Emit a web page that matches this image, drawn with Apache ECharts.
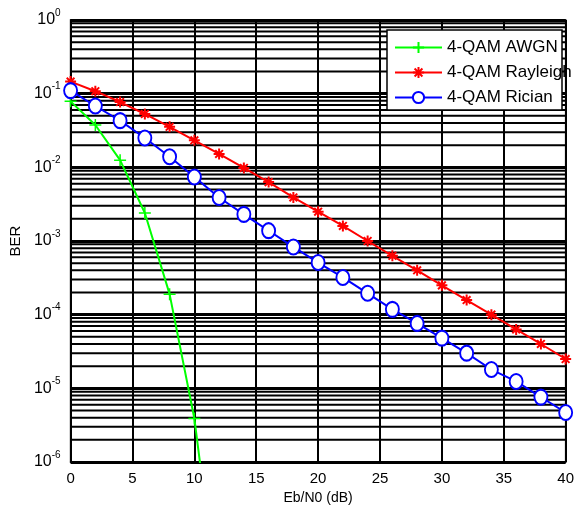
<!DOCTYPE html>
<html>
<head>
<meta charset="utf-8">
<script src="https://cdn.jsdelivr.net/npm/echarts@6/dist/echarts.min.js"></script>
<style>
  html, body { margin: 0; padding: 0; background: #fff; }
  #chart { width: 577px; height: 514px; }
</style>
</head>
<body>
<div id="chart"></div>
<script>
// Eb/N0 (dB) sample points
var snrAwgn = [0, 2, 4, 6, 8, 10, 12];
var snrFading = [0, 2, 4, 6, 8, 10, 12, 14, 16, 18, 20, 22, 24, 26, 28, 30, 32, 34, 36, 38, 40];

var berAwgn = [0.0786, 0.0375, 0.0125, 0.0024, 0.00019, 3.9e-6, 9e-9];
var berRayleigh = [0.146, 0.108, 0.077, 0.053, 0.0355, 0.0233, 0.0152, 0.0098, 0.0063, 0.0039, 0.0025,
  0.0016, 0.001, 0.00063, 0.0004, 0.00025, 0.000158, 0.0001, 6.3e-5, 4e-5, 2.5e-5];
var berRician = [0.11, 0.068, 0.043, 0.025, 0.0139, 0.0074, 0.0039, 0.0023, 0.00138, 0.00083, 0.00051,
  0.00032, 0.000195, 0.000118, 7.6e-5, 4.8e-5, 3e-5, 1.8e-5, 1.24e-5, 7.6e-6, 4.7e-6];

var seriesNames = ['4-QAM AWGN', '4-QAM Rayleigh', '4-QAM Rician'];

// minor log grid lines (2..9 in each decade), drawn as broken line segments
var minorGrid = [];
for (var e = -6; e < 0; e++) {
  for (var m = 2; m <= 9; m++) {
    var v = m * Math.pow(10, e);
    minorGrid.push([0, v], [40, v], [40, '-']);
  }
}

function pairs(xs, ys) {
  return xs.map(function (x, i) { return [x, ys[i]]; });
}

var font = "'Liberation Sans', Arial, sans-serif";
var chart = echarts.init(document.getElementById('chart'));

var option = {
  animation: false,
  textStyle: { fontFamily: font },
  grid: {
    left: 68, top: 20, right: 9, bottom: 52,
    show: true, borderColor: '#000', borderWidth: 1.5, backgroundColor: '#fff'
  },
  // legend frame (narrower than the Rayleigh label, like the original)
  graphic: [{
    type: 'rect',
    z: 10,
    shape: { x: 387, y: 30, width: 175, height: 80 },
    style: { fill: '#fff', stroke: '#000', lineWidth: 1.5 },
    silent: true
  }],
  legend: {
    data: seriesNames,
    orient: 'vertical',
    left: 387, top: 30,
    z: 20,
    padding: [9, 3, 6, 7],
    itemWidth: 47,
    itemHeight: 14,
    itemGap: 8,
    textStyle: { fontSize: 17, color: '#000', fontFamily: font }
  },
  xAxis: {
    type: 'value',
    min: 0, max: 40, interval: 5,
    name: 'Eb/N0 (dB)',
    nameLocation: 'middle',
    nameGap: 27,
    nameTextStyle: { fontSize: 14, color: '#000' },
    axisLine: { lineStyle: { color: '#000', width: 1.5 } },
    axisTick: { show: false },
    axisLabel: { fontSize: 15, color: '#000', margin: 9 },
    splitLine: { show: true, lineStyle: { color: '#000', width: 2 } }
  },
  yAxis: {
    type: 'log',
    logBase: 10,
    min: 1e-6, max: 1,
    name: 'BER',
    nameLocation: 'middle',
    nameGap: 37,
    nameTextStyle: { fontSize: 15, color: '#000' },
    axisLine: { lineStyle: { color: '#000', width: 1.5 } },
    axisTick: { show: false },
    axisLabel: {
      margin: 10,
      color: '#000',
      formatter: function (v) {
        var p = Math.round(Math.log10(v));
        return '{b|10}{e|' + p + '}';
      },
      rich: {
        b: { fontSize: 16, lineHeight: 24, color: '#000', fontFamily: font },
        e: { fontSize: 10, lineHeight: 10, verticalAlign: 'top', color: '#000', fontFamily: font }
      }
    },
    splitLine: { show: true, lineStyle: { color: '#000', width: 3 } }
  },
  series: [
    {
      name: 'grid',
      type: 'line',
      data: minorGrid,
      z: 1,
      silent: true,
      symbol: 'none',
      connectNulls: false,
      lineStyle: { color: '#000', width: 2 },
      emphasis: { disabled: true }
    },
    {
      name: seriesNames[0],
      type: 'line',
      z: 3,
      data: pairs(snrAwgn, berAwgn),
      symbol: 'path://M5,0L5,10M0,5L10,5',
      symbolSize: 12,
      showAllSymbol: true,
      lineStyle: { color: '#00ff00', width: 2 },
      itemStyle: { color: '#00ff00', borderColor: '#00ff00', borderWidth: 1.5 }
    },
    {
      name: seriesNames[1],
      type: 'line',
      z: 3,
      data: pairs(snrFading, berRayleigh),
      symbol: 'path://M5,0L5,10M0,5L10,5M1.5,1.5L8.5,8.5M1.5,8.5L8.5,1.5',
      symbolSize: 11,
      showAllSymbol: true,
      lineStyle: { color: '#ff0000', width: 2 },
      itemStyle: { color: '#ff0000', borderColor: '#ff0000', borderWidth: 2 }
    },
    {
      name: seriesNames[2],
      type: 'line',
      z: 3,
      data: pairs(snrFading, berRician),
      symbol: 'emptyCircle',
      symbolSize: [13, 15],
      showAllSymbol: true,
      lineStyle: { color: '#0000ff', width: 2 },
      itemStyle: { color: '#0000ff', borderColor: '#0000ff', borderWidth: 1.8 }
    }
  ]
};

chart.setOption(option);
</script>
</body>
</html>
